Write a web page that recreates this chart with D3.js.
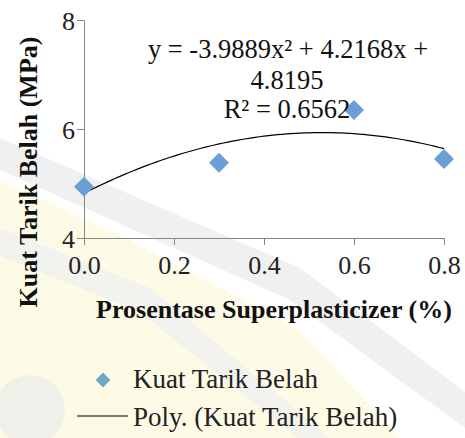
<!DOCTYPE html>
<html>
<head>
<meta charset="utf-8">
<script src="https://cdn.jsdelivr.net/npm/d3@7"></script>
<style>
  body { margin: 0; background: #fff; }
  text { font-family: "Liberation Serif", "DejaVu Serif", "Times New Roman", serif; }
</style>
</head>
<body>
<svg id="chart" width="465" height="438"></svg>
<script>
// data
const xValues = [0.0, 0.3, 0.6, 0.8];
const yValues = [4.94, 5.38, 6.35, 5.45];
const xTicks = [0.0, 0.2, 0.4, 0.6, 0.8];
const yTicks = [4, 6, 8];
// trendline coefficients as printed on the chart (a*x^2 + b*x + c)
const polyCoef = [-3.9889, 4.2168, 4.8195];
const seriesName = "Kuat Tarik Belah";
const trendName = "Poly. (Kuat Tarik Belah)";

const serif = "'Liberation Serif', 'DejaVu Serif', serif";
const svg = d3.select("#chart");

// faint watermark in the background
const wm = svg.append("g");
wm.append("path")
  .attr("d", "M0,180 L120,235 L300,330 L400,438 L0,438 Z")
  .attr("fill", "#fdfbe6");
wm.append("path")
  .attr("d", "M0,138 L300,268 L465,392 L465,428 L290,300 L0,170 Z")
  .attr("fill", "#f0f0f0");
wm.append("path")
  .attr("d", "M0,228 L150,288 L330,438 L298,438 L140,312 L0,256 Z")
  .attr("fill", "#f2f2ee");
wm.append("circle").attr("cx", 30).attr("cy", 410).attr("r", 35).attr("fill", "#f0f0ea");

const x = d3.scaleLinear().domain([0, 0.8]).range([84, 444]);
const y = d3.scaleLinear().domain([4, 8]).range([238, 20]);

const axisColor = "#868686";

const xAxis = svg.append("g")
  .attr("transform", `translate(0,${y(4)})`)
  .call(d3.axisBottom(x).tickValues(xTicks).tickFormat(d3.format(".1f")).tickSize(7).tickSizeOuter(0));
const yAxis = svg.append("g")
  .attr("transform", `translate(${x(0)},0)`)
  .call(d3.axisLeft(y).tickValues(yTicks).tickFormat(d3.format("d")).tickSize(7).tickSizeOuter(0));

[xAxis, yAxis].forEach(g => {
  g.attr("font-family", serif).attr("font-size", 26);
  g.select(".domain").attr("stroke", axisColor);
  g.selectAll(".tick line").attr("stroke", axisColor);
  g.selectAll(".tick text").attr("fill", "#222");
});
xAxis.selectAll(".tick text").attr("dy", "1.0em");
yAxis.selectAll(".tick text").attr("x", -9).attr("dy", "0.35em");

// trendline
const curve = d3.range(0, 0.8001, 0.01).map(t => [t, polyCoef[0] * t * t + polyCoef[1] * t + polyCoef[2]]);
svg.append("path")
  .datum(curve)
  .attr("fill", "none")
  .attr("stroke", "#000")
  .attr("stroke-width", 1.2)
  .attr("d", d3.line().x(d => x(d[0])).y(d => y(d[1])));

// markers
svg.selectAll(".pt")
  .data(xValues.map((v, i) => [v, yValues[i]]))
  .join("path")
  .attr("class", "pt")
  .attr("d", d3.symbol().type(d3.symbolSquare).size(200))
  .attr("transform", d => `translate(${x(d[0])},${y(d[1])}) rotate(45)`)
  .attr("fill", "#6a9fd6");

// equation label
const eq = svg.append("text")
  .attr("text-anchor", "middle")
  .attr("font-family", serif)
  .attr("font-size", 26.5)
  .attr("fill", "#111");
eq.append("tspan").attr("x", 288).attr("y", 58)
  .text("y = -3.9889x² + 4.2168x +");
eq.append("tspan").attr("x", 287).attr("y", 89).text("4.8195");
eq.append("tspan").attr("x", 287).attr("y", 118).text("R² = 0.6562");

// axis titles
svg.append("text")
  .attr("x", 274).attr("y", 318)
  .attr("text-anchor", "middle")
  .attr("font-family", serif)
  .attr("font-weight", "bold")
  .attr("font-size", 26)
  .attr("fill", "#111")
  .text("Prosentase Superplasticizer (%)");

svg.append("text")
  .attr("transform", "translate(37,172) rotate(-90)")
  .attr("text-anchor", "middle")
  .attr("font-family", serif)
  .attr("font-weight", "bold")
  .attr("font-size", 26)
  .attr("fill", "#111")
  .text("Kuat Tarik Belah (MPa)");

// legend
const legend = svg.append("g").attr("font-family", serif).attr("font-size", 27);
legend.append("path")
  .attr("d", d3.symbol().type(d3.symbolSquare).size(110))
  .attr("transform", "translate(103,380) rotate(45)")
  .attr("fill", "#6fa8c0");
legend.append("text")
  .attr("x", 133).attr("y", 388)
  .attr("fill", "#222")
  .text(seriesName);
legend.append("line")
  .attr("x1", 77).attr("x2", 128)
  .attr("y1", 416).attr("y2", 416)
  .attr("stroke", "#000").attr("stroke-width", 1.2);
legend.append("text")
  .attr("x", 133).attr("y", 426)
  .attr("fill", "#222")
  .text(trendName);
</script>
</body>
</html>
